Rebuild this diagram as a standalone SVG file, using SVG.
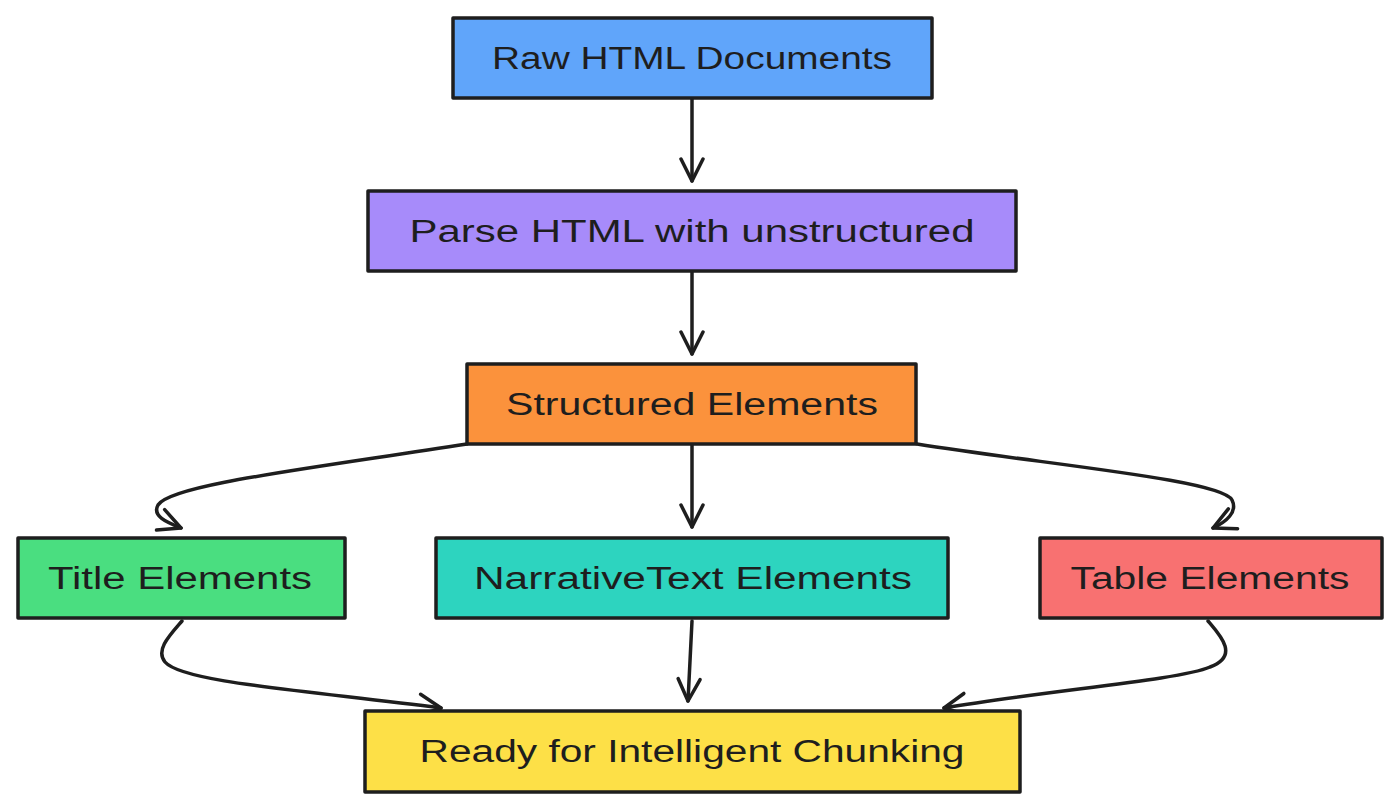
<svg xmlns="http://www.w3.org/2000/svg" width="1400" height="810" viewBox="0 0 1400 810">
<defs>
<style>
.box{stroke:#1e1e1e;stroke-width:3.5;stroke-linejoin:round}
.lbl{font-family:"Liberation Sans","DejaVu Sans",sans-serif;font-size:31px;fill:#1e1e1e;text-anchor:middle;dominant-baseline:central}
.con{fill:none;stroke:#1e1e1e;stroke-width:3.5;stroke-linecap:round;stroke-linejoin:round;marker-end:url(#ah)}
</style>
<marker id="ah" markerUnits="userSpaceOnUse" viewBox="-26 -14 28 28" markerWidth="28" markerHeight="28" refX="0" refY="0" orient="auto">
<path d="M-22,-11 L0,0 L-22,11" fill="none" stroke="#1e1e1e" stroke-width="3.5" stroke-linecap="round" stroke-linejoin="round"/>
</marker>
</defs>
<rect width="1400" height="810" fill="#ffffff"/>
<g id="connectors">
<path class="con" d="M692,99 L692,181"/>
<path class="con" d="M692,272 L692,354"/>
<path class="con" d="M692,445 L692,527"/>
<path class="con" d="M467,444 C300,470 170,485 158,505 C152,516 166,522 181,528"/>
<path class="con" d="M917,444 C1050,465 1222,480 1232,500 C1238,512 1226,522 1213,528"/>
<path class="con" d="M182,621 C170,635 155,650 165,662 C182,682 300,690 441,708"/>
<path class="con" d="M692,621 L688,701"/>
<path class="con" d="M1208,621 C1220,635 1240,656 1210,667 C1180,680 1050,690 944,708"/>
</g>
<g id="raw"><rect class="box" x="453" y="18" width="479" height="80" fill="#60a5fa"/><text class="lbl" x="692" y="58" textLength="400" lengthAdjust="spacingAndGlyphs">Raw HTML Documents</text></g>
<g id="parse"><rect class="box" x="368" y="191" width="648" height="80" fill="#a78bfa"/><text class="lbl" x="692" y="231" textLength="565" lengthAdjust="spacingAndGlyphs">Parse HTML with unstructured</text></g>
<g id="structured"><rect class="box" x="467" y="364" width="449" height="80" fill="#fb923c"/><text class="lbl" x="692" y="404" textLength="372" lengthAdjust="spacingAndGlyphs">Structured Elements</text></g>
<g id="title"><rect class="box" x="18" y="538" width="327" height="80" fill="#4ade80"/><text class="lbl" x="180" y="578" textLength="264" lengthAdjust="spacingAndGlyphs">Title Elements</text></g>
<g id="narrative"><rect class="box" x="436" y="538" width="512" height="80" fill="#2dd4bf"/><text class="lbl" x="693" y="578" textLength="438" lengthAdjust="spacingAndGlyphs">NarrativeText Elements</text></g>
<g id="table"><rect class="box" x="1040" y="538" width="342" height="80" fill="#f87171"/><text class="lbl" x="1210" y="578" textLength="279" lengthAdjust="spacingAndGlyphs">Table Elements</text></g>
<g id="ready"><rect class="box" x="365" y="711" width="655" height="81" fill="#fde047"/><text class="lbl" x="692" y="751" textLength="545" lengthAdjust="spacingAndGlyphs">Ready for Intelligent Chunking</text></g>
</svg>
